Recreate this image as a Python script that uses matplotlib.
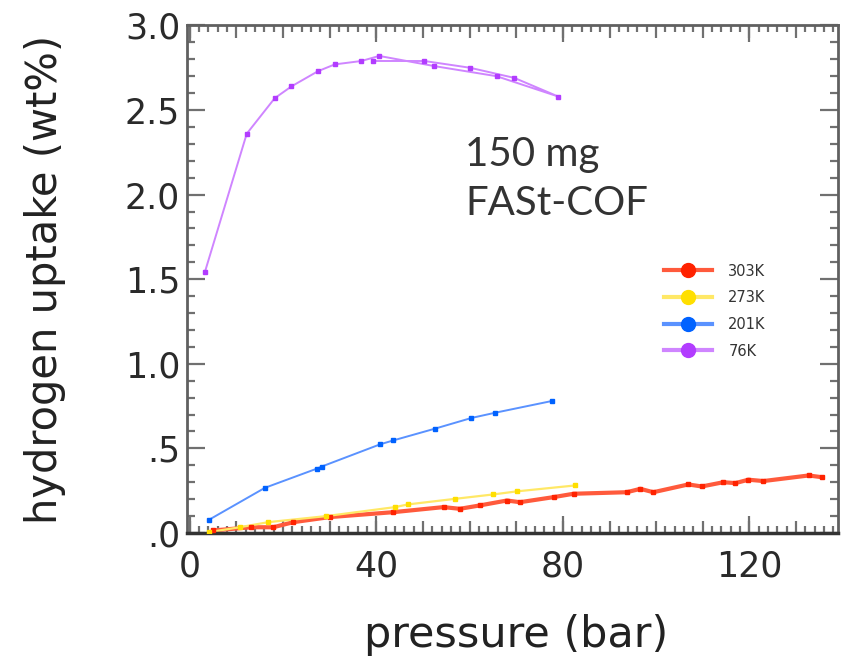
import matplotlib
matplotlib.use("Agg")
import matplotlib.pyplot as plt
from matplotlib.lines import Line2D
from matplotlib.ticker import MultipleLocator

plt.rcParams["font.family"] = ["DejaVu Sans"]

# 303K
p_303 = [5, 13.2, 17.9, 22.2, 30, 43.6, 54.4, 57.9, 62.2, 68, 70.8, 78, 82.3,
         93.7, 96.6, 99.4, 106.9, 109.8, 114.4, 117, 119.8, 123, 132.7, 135.5]
u_303 = [0.015, 0.034, 0.034, 0.064, 0.094, 0.123, 0.153, 0.143, 0.163, 0.192, 0.182, 0.212, 0.232,
         0.241, 0.261, 0.241, 0.287, 0.275, 0.30, 0.295, 0.315, 0.307, 0.34, 0.33]
# 273K
p_273 = [4.1, 10.7, 16.8, 29.3, 44.0, 46.8, 56.9, 65.1, 70.1, 82.6]
u_273 = [0.005, 0.034, 0.064, 0.10, 0.153, 0.169, 0.202, 0.228, 0.246, 0.281]
# 201K
p_201 = [4.1, 16.1, 27.2, 28.3, 40.8, 43.6, 52.6, 60.4, 65.5, 77.6]
u_201 = [0.078, 0.267, 0.38, 0.393, 0.524, 0.547, 0.617, 0.68, 0.711, 0.78]
# 76K (adsorption out, desorption back)
p_76 = [3.2, 12.2, 18.2, 21.8, 27.5, 31.1, 36.8, 40.6, 52.4, 65.8, 79.0, 69.6, 60.1, 50.3, 39.2]
u_76 = [1.54, 2.36, 2.57, 2.64, 2.73, 2.77, 2.79, 2.82, 2.76, 2.70, 2.58, 2.69, 2.75, 2.79, 2.79]

labels = ["303K", "273K", "201K", "76K"]
marker_colors = ["#ff2200", "#ffdf00", "#0062ff", "#b23cff"]
line_colors = ["#ff5a3c", "#ffe866", "#5a92ff", "#cf85ff"]

xtick_vals = [0, 10, 20, 30, 40, 50, 60, 70, 80, 90, 100, 110, 120, 130]
xtick_text = ["0", "", "", "", "40", "", "", "", "80", "", "", "", "120", ""]
xtick_long = [0, 40, 80, 120]
ytick_vals = [0, 0.5, 1.0, 1.5, 2.0, 2.5, 3.0]
ytick_text = [".0", ".5", "1.0", "1.5", "2.0", "2.5", "3.0"]

fig = plt.figure(figsize=(8.44, 6.65), dpi=100)
ax = fig.add_axes([0.2216, 0.1985, 0.7713, 0.7632])

series = [(p_303, u_303), (p_273, u_273), (p_201, u_201), (p_76, u_76)]
widths = [3.0, 1.6, 1.4, 1.4]
for (p, u), mc, lc, lw in zip(series, marker_colors, line_colors, widths):
    ax.plot(p, u, color=lc, lw=lw, zorder=2)
    ax.plot(p, u, ls="none", marker="s", ms=3.5, color=mc, mec=mc, zorder=3)

ax.set_xlim(-0.6, 139)
ax.set_ylim(0, 3.0)

ax.set_xticks(xtick_vals)
ax.set_xticklabels(xtick_text)
ax.set_yticks(ytick_vals)
ax.set_yticklabels(ytick_text)
ax.xaxis.set_minor_locator(MultipleLocator(2))
ax.yaxis.set_minor_locator(MultipleLocator(0.1))
ax.tick_params(which="both", direction="in", top=True, right=True, color="#707070", width=1.6)
ax.tick_params(which="major", axis="x", length=9, pad=12)
ax.tick_params(which="minor", axis="x", length=5)
ax.tick_params(which="major", axis="y", length=13, pad=5)
ax.tick_params(which="minor", axis="y", length=6)
ax.tick_params(axis="both", labelsize=25, labelcolor="#2a2a2a")

# longer ticks at the labelled pressures, bottom and top
for loc in ["bottom", "top"]:
    sec = ax.secondary_xaxis(loc)
    sec.set_xticks(xtick_long)
    sec.set_xticklabels([])
    sec.tick_params(direction="in", length=12.5, width=1.6, color="#707070")
    sec.spines[loc].set_visible(False)

for s in ["left", "top", "right"]:
    ax.spines[s].set_color("#606060")
    ax.spines[s].set_linewidth(2)
ax.spines["bottom"].set_color("#333333")
ax.spines["bottom"].set_linewidth(2.5)

ax.set_xlabel("pressure (bar)", fontsize=31, color="#222222")
ax.set_ylabel("hydrogen uptake (wt%)", fontsize=30, color="#222222")
ax.xaxis.set_label_coords(0.505, -0.16)
ax.yaxis.set_label_coords(-0.186, 0.5)

ax.text(0.427, 0.782, "150 mg\nFASt-COF", transform=ax.transAxes, fontsize=29,
        family="Lato", color="#333333", va="top", ha="left", linespacing=1.38)

handles = [Line2D([], [], color=lc, lw=3, marker="o", ms=10, mfc=mc, mec=mc)
           for mc, lc in zip(marker_colors, line_colors)]
ax.legend(handles, labels, loc="upper left", bbox_to_anchor=(0.733, 0.531),
          frameon=False, fontsize=10.5, handlelength=3.3, handletextpad=1.1,
          labelspacing=0.8, borderpad=0, borderaxespad=0, labelcolor="#333333")

plt.savefig("out.png", dpi=100)
